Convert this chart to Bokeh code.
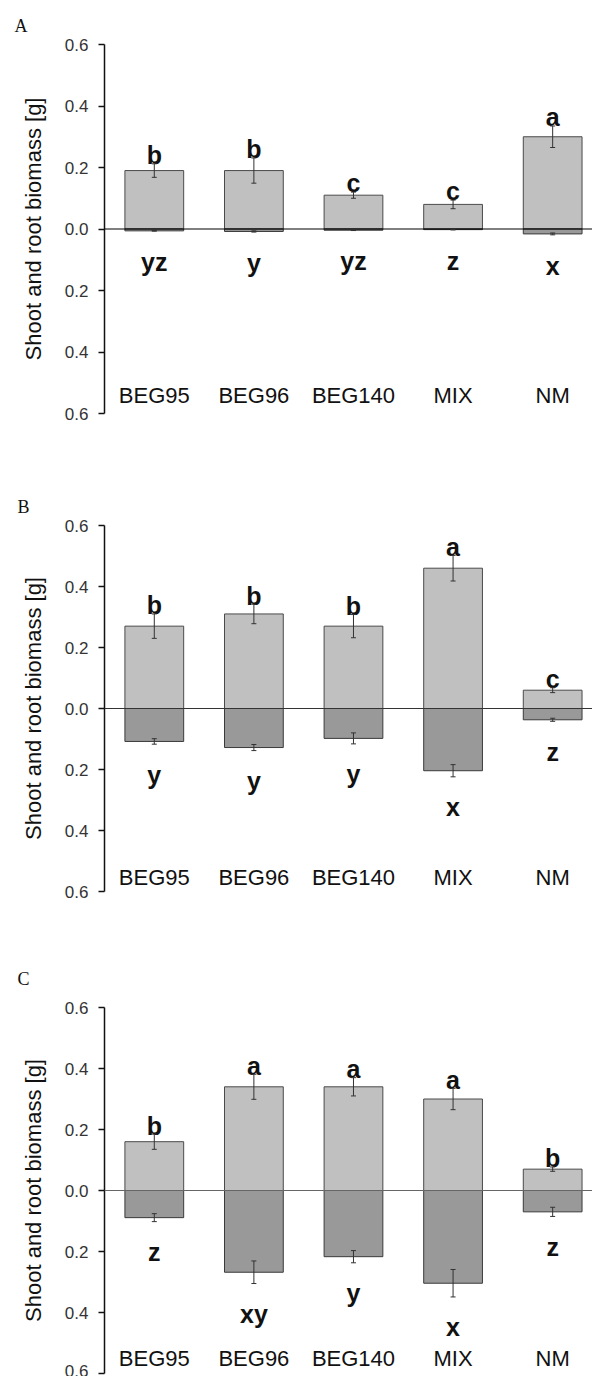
from bokeh.plotting import figure
from bokeh.models import (Range1d, FixedTicker, CustomJSTickFormatter, Span, Whisker,
                          TeeHead, ColumnDataSource)
from bokeh.layouts import column
from bokeh.core.properties import value
from bokeh.embed import file_html
from bokeh.resources import INLINE

# ---------------- data ----------------
categories = ["BEG95", "BEG96", "BEG140", "MIX", "NM"]

A_shoot = [0.19, 0.19, 0.11, 0.08, 0.30]
A_shoot_se = [0.022, 0.041, 0.010, 0.014, 0.035]
A_root = [0.006, 0.008, 0.004, 0.002, 0.016]
A_root_se = [0.001, 0.002, 0.001, 0.001, 0.003]
A_shoot_letters = ["b", "b", "c", "c", "a"]
A_root_letters = ["yz", "y", "yz", "z", "x"]

B_shoot = [0.27, 0.31, 0.27, 0.46, 0.06]
B_shoot_se = [0.040, 0.032, 0.038, 0.042, 0.008]
B_root = [0.108, 0.128, 0.098, 0.204, 0.037]
B_root_se = [0.009, 0.010, 0.018, 0.020, 0.005]
B_shoot_letters = ["b", "b", "b", "a", "c"]
B_root_letters = ["y", "y", "y", "x", "z"]

C_shoot = [0.16, 0.34, 0.34, 0.30, 0.07]
C_shoot_se = [0.025, 0.041, 0.030, 0.035, 0.007]
C_root = [0.089, 0.268, 0.217, 0.304, 0.070]
C_root_se = [0.013, 0.037, 0.020, 0.045, 0.015]
C_shoot_letters = ["b", "a", "a", "a", "b"]
C_root_letters = ["z", "xy", "y", "x", "z"]

y_ticks = [-0.6, -0.4, -0.2, 0.0, 0.2, 0.4, 0.6]

SANS = "Liberation Sans"
SERIF = "Liberation Serif"


def make_panel(tag, shoot, shoot_se, root, root_se, sl, rl, height, bl, bt, bb,
               tag_standoff, zero_color, cat_y):
    p = figure(width=592, height=height, output_backend="svg", toolbar_location=None,
               x_axis_location=None, min_border_left=bl, min_border_right=0,
               min_border_top=bt, min_border_bottom=bb,
               x_range=Range1d(-0.5, 4.40), y_range=Range1d(-0.6, 0.6))
    p.outline_line_color = None
    p.xgrid.visible = False
    p.ygrid.visible = False

    # panel tag (A / B / C) as the figure title, pulled to the left edge
    p.title.text = tag
    p.title.align = "left"
    p.title.offset = -(bl - 14)
    p.title.standoff = tag_standoff
    p.title.text_font = SERIF
    p.title.text_font_size = "18px"
    p.title.text_font_style = "normal"
    p.title.text_color = "#111111"

    ax = p.yaxis[0]
    ax.ticker = FixedTicker(ticks=y_ticks)
    ax.formatter = CustomJSTickFormatter(code="return Math.abs(tick).toFixed(1);")
    ax.axis_label = "Shoot and root biomass [g]"
    ax.axis_label_text_font = SANS
    ax.axis_label_text_font_size = "22px"
    ax.axis_label_text_font_style = "normal"
    ax.axis_label_text_color = "#111111"
    ax.axis_label_standoff = 16
    ax.major_label_text_font = SANS
    ax.major_label_text_font_size = "17px"
    ax.major_label_text_color = "#333333"
    ax.major_label_standoff = 10
    ax.axis_line_color = "#111111"
    ax.axis_line_width = 1.5
    ax.major_tick_line_color = "#111111"
    ax.major_tick_line_width = 1.5
    ax.major_tick_out = 6
    ax.major_tick_in = 0
    ax.minor_tick_line_color = None

    x = list(range(len(categories)))
    neg_root = [-r for r in root]
    zeros = [0] * len(x)

    p.vbar(x=x, top=shoot, bottom=zeros, width=0.59, fill_color="#c0c0c0",
           line_color="#4a4a4a", line_width=1)
    p.vbar(x=x, top=zeros, bottom=neg_root, width=0.59, fill_color="#999999",
           line_color="#3a3a3a", line_width=1)

    p.add_layout(Span(location=0, dimension="width", line_color=zero_color, line_width=1))

    src_s = ColumnDataSource(dict(x=x,
                                  upper=[s + e for s, e in zip(shoot, shoot_se)],
                                  lower=[s - e for s, e in zip(shoot, shoot_se)]))
    src_r = ColumnDataSource(dict(x=x,
                                  upper=[-(r - e) for r, e in zip(root, root_se)],
                                  lower=[-(r + e) for r, e in zip(root, root_se)]))
    for src in (src_s, src_r):
        w = Whisker(source=src, base="x", upper="upper", lower="lower",
                    line_color="#333333", line_width=1, level="annotation",
                    upper_head=TeeHead(size=5, line_color="#333333", line_width=1),
                    lower_head=TeeHead(size=5, line_color="#333333", line_width=1))
        p.add_layout(w)

    p.text(x=x, y=[s + e + 0.028 for s, e in zip(shoot, shoot_se)], text=sl,
           text_font=value(SANS), text_font_size=value("25px"), text_font_style="bold",
           text_color="#111111", text_align="center", text_baseline="alphabetic")
    p.text(x=x, y=[-(r + e) - 0.10 for r, e in zip(root, root_se)], text=rl,
           text_font=value(SANS), text_font_size=value("25px"), text_font_style="bold",
           text_color="#111111", text_align="center", text_baseline="alphabetic")

    p.text(x=x, y=[cat_y] * len(x), text=categories,
           text_font=value(SANS), text_font_size=value("22px"), text_color="#111111",
           text_align="center", text_baseline="alphabetic")
    return p


pA = make_panel("A", A_shoot, A_shoot_se, A_root, A_root_se, A_shoot_letters, A_root_letters,
                height=458, bl=104, bt=44, bb=45, tag_standoff=18, zero_color="#000000",
                cat_y=-0.54)
pB = make_panel("B", B_shoot, B_shoot_se, B_root, B_root_se, B_shoot_letters, B_root_letters,
                height=458, bl=101, bt=67, bb=25, tag_standoff=18, zero_color="#333333",
                cat_y=-0.553)
pC = make_panel("C", C_shoot, C_shoot_se, C_root, C_root_se, C_shoot_letters, C_root_letters,
                height=460, bl=101, bt=91, bb=3, tag_standoff=37, zero_color="#666666",
                cat_y=-0.55)

layout = column(pA, pB, pC)
open("out.html", "w").write(file_html(layout, INLINE))
